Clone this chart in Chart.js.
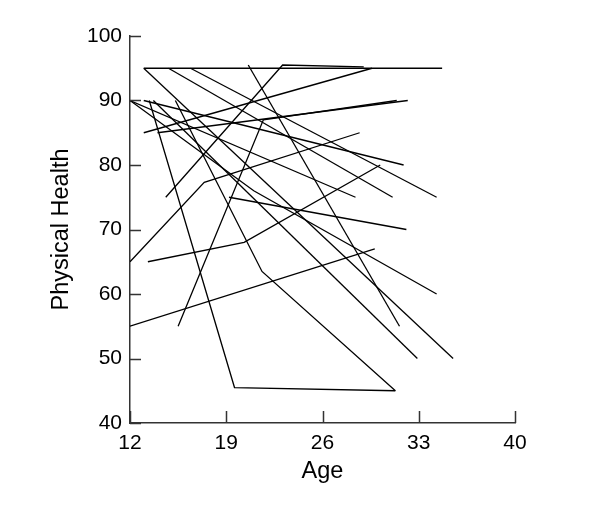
<!DOCTYPE html>
<html>
<head>
<meta charset="utf-8">
<script src="https://cdn.jsdelivr.net/npm/chart.js@4.4.1/dist/chart.umd.min.js"></script>
<style>
  html, body { margin: 0; padding: 0; background: #fff; }
  canvas { display: block; }
</style>
</head>
<body>
<canvas id="myChart" width="600" height="515"></canvas>
<script>
// axis setup
var xTicks = [12, 19, 26, 33, 40];
var yTicks = [40, 50, 60, 70, 80, 90, 100];

// one pair of arrays per person: ages and physical health scores
var age01 = [13, 34.7],          health01 = [95, 95];
var age02 = [13, 29.6],          health02 = [85, 95];
var age03 = [14, 32.2],          health03 = [85, 90];
var age04 = [15.5, 21.7, 31.4],  health04 = [55, 87, 90];
var age05 = [12, 17.4, 28.7],    health05 = [65, 77.3, 85];
var age06 = [13.3, 20.3, 30.2],  health06 = [65, 68, 80];
var age07 = [12, 29.8],          health07 = [55, 67];
var age08 = [13.4, 19.6, 31.3],  health08 = [90, 45.5, 45];
var age09 = [15.3, 21.6, 31.3],  health09 = [90, 63.5, 45];
var age10 = [14.6, 23.1, 29],    health10 = [75, 95.5, 95.2];
var age11 = [13.7, 32.9],        health11 = [90, 50];
var age12 = [13, 35.5],          health12 = [95, 50];
var age13 = [16.4, 34.3],        health13 = [95, 75];
var age14 = [14.8, 31.1],        health14 = [95, 75];
var age15 = [12, 28.4],          health15 = [90, 75];
var age16 = [19.2, 32.1],        health16 = [75, 70];
var age17 = [12, 21, 34.3],      health17 = [90, 76, 60];
var age18 = [13, 31.9],          health18 = [90, 80];
var age19 = [20.6, 31.6],        health19 = [95.5, 55];

var people = [
	[age01, health01], [age02, health02], [age03, health03], [age04, health04],
	[age05, health05], [age06, health06], [age07, health07], [age08, health08],
	[age09, health09], [age10, health10], [age11, health11], [age12, health12],
	[age13, health13], [age14, health14], [age15, health15], [age16, health16],
	[age17, health17], [age18, health18], [age19, health19]
];

var datasets = people.map(function(p) {
	return {
		data: p[0].map(function(a, i) { return {x: a, y: p[1][i]}; }),
		showLine: true,
		borderColor: '#000',
		borderWidth: 1.3,
		pointRadius: 0,
		fill: false
	};
});

// small inward tick marks, like the original plot
var innerTicks = {
	id: 'innerTicks',
	afterDraw: function(chart) {
		var c = chart.ctx, area = chart.chartArea;
		var xs = chart.scales.x, ys = chart.scales.y;
		c.save();
		c.strokeStyle = '#333';
		c.lineWidth = 1.5;
		c.beginPath();
		xTicks.forEach(function(v) {
			var px = Math.round(xs.getPixelForValue(v)) + 0.5;
			c.moveTo(px, area.bottom);
			c.lineTo(px, area.bottom - 12);
		});
		yTicks.forEach(function(v) {
			var py = Math.round(ys.getPixelForValue(v)) + 0.5;
			c.moveTo(area.left, py);
			c.lineTo(area.left + 11, py);
		});
		c.stroke();
		c.restore();
	}
};

var font = 'Liberation Sans, Arial, sans-serif';

var ctx = document.getElementById("myChart");
var myChart = new Chart(ctx, {
	type: 'scatter',
	data: { datasets: datasets },
	options: {
		responsive: false,
		animation: false,
		layout: { padding: { top: 36, right: 85, left: 0, bottom: 0 } },
		plugins: { legend: { display: false }, tooltip: { enabled: false } },
		scales: {
			x: {
				type: 'linear',
				min: 12, max: 40,
				afterFit: function(s) { s.height = 92; },
				afterBuildTicks: function(s) { s.ticks = xTicks.map(function(v) { return {value: v}; }); },
				grid: { display: false, drawTicks: false },
				border: { display: true, color: '#333', width: 1.5 },
				ticks: { color: '#000', font: { family: font, size: 21 }, padding: 8, maxRotation: 0 },
				title: { display: true, text: 'Age', color: '#000', font: { family: font, size: 23.5 }, padding: { top: 0, bottom: 29 } }
			},
			y: {
				type: 'linear',
				min: 40, max: 100,
				afterFit: function(s) { s.width = 130; },
				afterBuildTicks: function(s) { s.ticks = yTicks.map(function(v) { return {value: v}; }); },
				grid: { display: false, drawTicks: false },
				border: { display: true, color: '#333', width: 1.5 },
				ticks: { color: '#000', font: { family: font, size: 21 }, padding: 8 },
				title: { display: true, text: 'Physical Health', color: '#000', font: { family: font, size: 23.5 }, padding: { top: 47, bottom: 0 } }
			}
		}
	},
	plugins: [innerTicks]
});
</script>
</body>
</html>
